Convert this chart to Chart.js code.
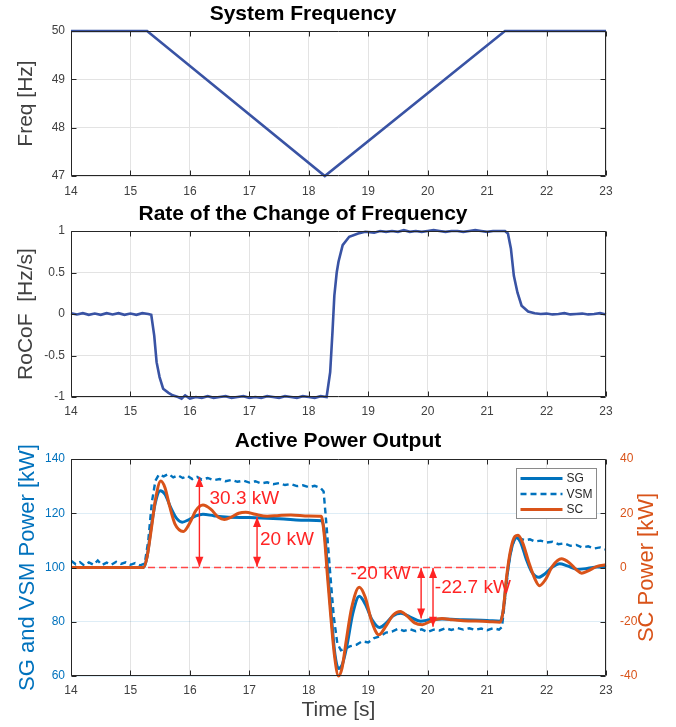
<!DOCTYPE html>
<html>
<head>
<meta charset="utf-8">
<title>Frequency event</title>
<script src="https://cdn.jsdelivr.net/npm/chart.js@4.4.1/dist/chart.umd.min.js"></script>
<style>
  body { margin: 0; background: #fff; }
  .panel { position: absolute; left: 0; width: 676px; }
</style>
</head>
<body>
<div class="panel" style="top:0"><canvas id="freqChart" width="676" height="200"></canvas></div>
<div class="panel" style="top:200px"><canvas id="rocofChart" width="676" height="220"></canvas></div>
<div class="panel" style="top:420px"><canvas id="powerChart" width="676" height="307"></canvas></div>
<script>
// ---- data ----
const timeTicks = [14, 15, 16, 17, 18, 19, 20, 21, 22, 23];
const freqTicks = [47, 48, 49, 50];
const rocofTicks = [-1, -0.5, 0, 0.5, 1];
const powerTicks = [60, 80, 100, 120, 140];
const scTicks = [-40, -20, 0, 20, 40];

const freqT = [14, 14.5, 15, 15.28, 18.27, 21.3, 21.6, 22, 22.5, 23];
const freqHz = [50, 50, 50, 50, 47, 50, 50, 50, 50, 50];

const rocofT = [14, 14.1, 14.2, 14.3, 14.4, 14.5, 14.6, 14.7, 14.8, 14.9, 15.0, 15.1, 15.2, 15.3, 15.35,
  15.4, 15.44, 15.49, 15.55, 15.64, 15.71, 15.8, 15.86, 15.92, 16.0, 16.1, 16.2, 16.3, 16.4, 16.5, 16.6,
  16.7, 16.8, 16.9, 17.0, 17.1, 17.2, 17.3, 17.4, 17.5, 17.6, 17.7, 17.8, 17.9, 18.0, 18.1, 18.2, 18.3,
  18.36, 18.4, 18.43, 18.47, 18.5, 18.57, 18.68, 18.83, 18.95, 19.1, 19.2, 19.3, 19.4, 19.5, 19.6, 19.7,
  19.8, 19.9, 20.0, 20.1, 20.2, 20.3, 20.4, 20.5, 20.6, 20.7, 20.8, 20.9, 21.0, 21.1, 21.2, 21.3, 21.35,
  21.4, 21.45, 21.51, 21.58, 21.69, 21.8, 21.9, 22.0, 22.1, 22.2, 22.3, 22.4, 22.5, 22.6, 22.7, 22.8,
  22.9, 23.0];
const rocofV = [0.01, -0.005, 0.01, -0.01, 0.005, -0.01, 0.01, -0.005, 0.01, -0.01, 0.005, -0.01, 0.01, 0.0, -0.01,
  -0.26, -0.58, -0.76, -0.9, -0.95, -0.98, -1.0, -1.02, -0.98, -1.02, -1.0, -1.01, -0.99, -1.01, -1.0, -0.99,
  -1.01, -1.0, -0.99, -1.01, -1.0, -1.01, -0.99, -1.0, -1.01, -0.99, -1.0, -1.01, -0.99, -1.0, -1.01, -0.99, -1.0,
  -0.7, -0.2, 0.22, 0.5, 0.63, 0.83, 0.93, 0.97, 0.99, 0.98, 1.0, 0.99, 1.0, 0.99, 1.01, 0.99,
  1.0, 0.99, 1.0, 1.01, 1.0, 0.99, 1.0, 1.0, 0.99, 1.0, 1.01, 1.0, 0.99, 1.0, 1.0, 1.0, 0.97,
  0.79, 0.46, 0.26, 0.1, 0.03, 0.01, 0.0, 0.005, -0.005, 0.0, 0.01, -0.005, 0.0, 0.005, -0.005, 0.0,
  0.01, -0.005];

const sgT = [14, 15.22, 15.28, 15.35, 15.42, 15.5, 15.58, 15.68, 15.78, 15.87, 15.98, 16.1, 16.22, 16.4,
  16.6, 17.0, 17.5, 18.0, 18.22, 18.27, 18.32, 18.38, 18.44, 18.5, 18.56, 18.64, 18.74, 18.85, 18.95,
  19.07, 19.19, 19.3, 19.42, 19.55, 19.7, 19.88, 20.05, 20.25, 20.6, 21.0, 21.22, 21.27, 21.33, 21.4,
  21.49, 21.56, 21.66, 21.76, 21.87, 21.98, 22.1, 22.22, 22.35, 22.52, 22.7, 22.85, 23];
const sgP = [100, 100, 104, 115, 124, 128.3, 127, 122, 118, 116.7, 117.6, 119, 119.6, 119.1,
  118.6, 118.4, 118.0, 117.4, 117.2, 112, 98, 82, 68, 62.8, 64, 71, 83, 89.4, 86.5,
  80.5, 77.9, 79.5, 82.2, 83.1, 81.8, 80.2, 80.8, 81, 80.7, 80.5, 80.2, 84, 96, 106,
  111, 109.5, 103, 98, 96.4, 97.8, 100.2, 101.4, 100.6, 99.3, 99.7, 100.2, 100];

const vsmT = [14, 14.08, 14.15, 14.22, 14.3, 14.38, 14.45, 14.52, 14.6, 14.68, 14.76, 14.84, 14.92, 15.0,
  15.08, 15.16, 15.24, 15.3, 15.36, 15.42, 15.48, 15.56, 15.64, 15.72, 15.8, 15.88, 15.96, 16.04, 16.12,
  16.2, 16.3, 16.4, 16.5, 16.6, 16.7, 16.8, 16.9, 17.0, 17.1, 17.2, 17.3, 17.4, 17.5, 17.6, 17.7, 17.8,
  17.9, 18.0, 18.1, 18.2, 18.25, 18.3, 18.36, 18.42, 18.48, 18.54, 18.62, 18.7, 18.8, 18.9, 19.0, 19.1,
  19.2, 19.3, 19.4, 19.5, 19.6, 19.7, 19.8, 19.9, 20.0, 20.1, 20.2, 20.3, 20.4, 20.5, 20.6, 20.7, 20.8,
  20.9, 21.0, 21.1, 21.2, 21.25, 21.3, 21.36, 21.42, 21.48, 21.56, 21.64, 21.72, 21.8, 21.9, 22.0, 22.1,
  22.2, 22.3, 22.4, 22.5, 22.6, 22.7, 22.8, 22.9, 23.0];
const vsmP = [102.5, 101.2, 102, 100.8, 101.9, 101, 102.6, 100.9, 101.8, 101, 102.1, 101.3, 101.9, 101,
  101.6, 100.8, 101.4, 110, 124, 132, 134.3, 133.6, 134.5, 133.2, 134, 133, 133.8, 132.6, 133.4,
  132.4, 133, 132.2, 132.6, 131.8, 132.3, 131.6, 132, 131.3, 131.8, 131, 131.4, 130.7, 131.1, 130.4, 130.8, 130,
  130.3, 129.6, 130.1, 129.3, 128, 115, 98, 82, 72, 69.5, 70.2, 71, 71.5, 72.8, 72.4, 74,
  74.6, 76, 76.4, 77.4, 76.6, 77.3, 76.5, 77.2, 76.2, 77.1, 76.8, 77.6, 77, 77.7, 77.1, 77.6, 77,
  77.5, 76.9, 77.6, 77.1, 78, 88, 101, 108, 111, 110.6, 110, 110.4, 109.6, 109.9, 109.2, 109.5,
  108.6, 108.9, 108, 108.3, 107.4, 107.8, 107, 107.4, 106.6];

const scT = [14, 15.22, 15.28, 15.35, 15.42, 15.51, 15.58, 15.66, 15.75, 15.89, 16.0, 16.1, 16.22, 16.35,
  16.48, 16.58, 16.7, 16.82, 16.94, 17.1, 17.3, 17.5, 17.7, 18.0, 18.21, 18.26, 18.31, 18.37, 18.43,
  18.5, 18.56, 18.63, 18.72, 18.85, 18.95, 19.06, 19.18, 19.3, 19.42, 19.54, 19.66, 19.78, 19.91, 20.05,
  20.24, 20.42, 20.6, 21.0, 21.22, 21.27, 21.33, 21.4, 21.47, 21.52, 21.6, 21.7, 21.8, 21.88, 21.98,
  22.1, 22.25, 22.38, 22.5, 22.59, 22.7, 22.85, 23];
const scP = [0, 0, 4, 14, 25, 31.9, 29.5, 22.5, 16, 13.3, 16.5, 21, 23, 21.5,
  18.5, 17.7, 18.6, 20, 20.4, 19.6, 18.9, 19.2, 19.4, 19, 18.9, 12, -2, -18, -32,
  -40, -37, -27, -15, -7.3, -11, -20, -24.8, -21.5, -17.5, -16.2, -18, -20.4, -21.1, -19.8,
  -18.8, -19.3, -19.6, -19.9, -20.2, -16, -3, 7, 11.5, 11.9, 9, 2, -4, -6.7, -4.5,
  0.5, 3.2, 1.8, -0.8, -2.1, -1.2, 0.4, 1];

// reference level and the four measured differences
const refLine = [[14, 100], [21.3, 100]];
const arrowX = [16.16, 17.13, 19.89, 20.09];
const arrowFrom = [100.3, 100.3, 99.8, 99.8];
const arrowTo = [133.4, 118.6, 81.2, 78.2];
const noteText = ['30.3 kW', '20 kW', '-20 kW', '-22.7 kW'];
const noteX = [16.33, 17.18, 18.7, 20.12];
const noteY = [125.3, 110.1, 97.8, 92.4];
const legendNames = ['SG', 'VSM', 'SC'];
const rightTitle = 'SC Power [kW]';

// ---- styling ----
const FONT = "'Liberation Sans', Arial, Helvetica, sans-serif";
const gray = '#404040';
const frameGray = '#262626';
const gridGray = '#e3e3e3';
const sgBlue = '#0072BD';
const scOrange = '#D95319';
const freqBlue = '#3953a4';
const red = '#ff2424';

Chart.defaults.font.family = FONT;
Chart.defaults.animation = false;
Chart.defaults.events = [];

const pairs = (xs, ys) => xs.map((x, i) => ({ x: x, y: ys[i] }));

// MATLAB style box with inward ticks on all four sides
const framePlugin = {
  id: 'frame',
  afterDatasetsDraw(chart, args, opts) {
    const { ctx, chartArea: a, scales } = chart;
    const t = 5;
    const line = (x1, y1, x2, y2) => { ctx.beginPath(); ctx.moveTo(x1, y1); ctx.lineTo(x2, y2); ctx.stroke(); };
    const L = a.left + 0.5, R = a.right - 0.5, T = a.top + 0.5, B = a.bottom - 0.5;
    ctx.save();
    ctx.lineWidth = 1;
    ctx.strokeStyle = frameGray;
    line(L, T, R, T);
    line(L, B, R, B);
    scales.x.ticks.forEach(tk => {
      const px = Math.round(scales.x.getPixelForValue(tk.value)) + 0.5;
      line(px, B, px, B - t);
      line(px, T, px, T + t);
    });
    const yl = scales.y;
    const yr = scales.y1 || scales.y;
    ctx.strokeStyle = opts.left || frameGray;
    line(L, T, L, B);
    yl.ticks.forEach(tk => {
      const py = Math.round(yl.getPixelForValue(tk.value)) + 0.5;
      line(L, py, L + t, py);
      if (!scales.y1) line(R, py, R - t, py);
    });
    ctx.strokeStyle = opts.right || frameGray;
    line(R, T, R, B);
    if (scales.y1) {
      yr.ticks.forEach(tk => {
        const py = Math.round(yr.getPixelForValue(tk.value)) + 0.5;
        line(R, py, R - t, py);
      });
    }
    ctx.restore();
  }
};

// arrow heads, value labels, right axis label and the boxed legend of the power panel
const notesPlugin = {
  id: 'notes',
  afterDatasetsDraw(chart) {
    const { ctx, chartArea: a, scales } = chart;
    ctx.save();
    chart.data.datasets.forEach((ds, i) => {
      if (!ds.isArrow) return;
      const pts = chart.getDatasetMeta(i).data;
      [[pts[0], pts[1]], [pts[1], pts[0]]].forEach(([tip, from]) => {
        const dir = tip.y < from.y ? 1 : -1;
        ctx.fillStyle = red;
        ctx.beginPath();
        ctx.moveTo(tip.x, tip.y);
        ctx.lineTo(tip.x - 4, tip.y + dir * 10);
        ctx.lineTo(tip.x + 4, tip.y + dir * 10);
        ctx.closePath();
        ctx.fill();
      });
    });
    ctx.fillStyle = red;
    ctx.font = '19px ' + FONT;
    ctx.textBaseline = 'middle';
    ctx.textAlign = 'left';
    noteText.forEach((txt, i) => {
      ctx.fillText(txt, scales.x.getPixelForValue(noteX[i]), scales.y.getPixelForValue(noteY[i]));
    });

    // right axis label, reading bottom to top like the left one
    ctx.save();
    ctx.translate(a.right + 41, (a.top + a.bottom) / 2);
    ctx.rotate(-Math.PI / 2);
    ctx.textAlign = 'center';
    ctx.fillStyle = scOrange;
    ctx.font = '22px ' + FONT;
    ctx.fillText(rightTitle, 0, 0);
    ctx.restore();

    // legend box
    const w = 80, h = 50;
    const bx = Math.round(a.right - 10 - w) + 0.5, by = Math.round(a.top + 9) + 0.5;
    ctx.fillStyle = '#fff';
    ctx.fillRect(bx, by, w, h);
    ctx.strokeStyle = '#8a8a8a';
    ctx.lineWidth = 1;
    ctx.strokeRect(bx, by, w, h);
    ctx.font = '12px ' + FONT;
    legendNames.forEach((name, k) => {
      const ds = chart.data.datasets.find(d => d.label === name);
      const yy = by + 10 + k * 15.5;
      ctx.strokeStyle = ds.borderColor;
      ctx.lineWidth = ds.borderWidth;
      ctx.setLineDash(ds.borderDash || []);
      ctx.beginPath();
      ctx.moveTo(bx + 4, yy);
      ctx.lineTo(bx + 46, yy);
      ctx.stroke();
      ctx.setLineDash([]);
      ctx.fillStyle = frameGray;
      ctx.fillText(name, bx + 50, yy + 0.5);
    });
    ctx.restore();
  }
};

const tickFont = { size: 12 };
function timeAxis(height, pad, title) {
  return {
    type: 'linear', min: 14, max: 23,
    afterBuildTicks: s => { s.ticks = timeTicks.map(v => ({ value: v })); },
    afterFit: s => { s.height = height; },
    ticks: { color: gray, font: tickFont, padding: pad, maxRotation: 0, autoSkip: false, callback: v => String(v) },
    grid: { color: gridGray, drawTicks: false },
    border: { display: false },
    title: title ? { display: true, text: title, color: gray, font: { size: 21 }, padding: { top: 0, bottom: 4 } } : { display: false }
  };
}
function valueAxis(opts) {
  return {
    type: 'linear', position: opts.position || 'left', min: opts.min, max: opts.max,
    afterBuildTicks: s => { s.ticks = opts.ticks.map(v => ({ value: v })); },
    afterFit: s => { s.width = opts.width; },
    ticks: { color: opts.color || gray, font: tickFont, padding: 6, autoSkip: false, callback: v => String(v) },
    grid: opts.grid === false ? { display: false } : { color: opts.gridColor || gridGray, drawTicks: false },
    border: { display: false },
    title: opts.title ? { display: true, text: opts.title, color: opts.color || gray, font: { size: opts.titleSize || 21 }, padding: { top: opts.titlePad, bottom: 0 } } : { display: false }
  };
}
function titleOpts(text, top, bottom) {
  return { display: true, text: text, color: '#000', font: { size: 21, weight: 'bold' }, padding: { top: top, bottom: bottom } };
}

new Chart(document.getElementById('freqChart'), {
  type: 'line',
  data: {
    datasets: [{
      label: 'Freq', data: pairs(freqT, freqHz), clip: false,
      borderColor: freqBlue, borderWidth: 2.6, pointRadius: 0
    }]
  },
  options: {
    responsive: false,
    layout: { padding: { right: 70 } },
    plugins: { legend: { display: false }, tooltip: { enabled: false }, title: titleOpts('System Frequency', 2, 3.8) },
    scales: {
      x: timeAxis(24, 8),
      y: valueAxis({ min: 47, max: 50, ticks: freqTicks, width: 71, title: 'Freq [Hz]', titlePad: 14 })
    }
  },
  plugins: [framePlugin]
});

new Chart(document.getElementById('rocofChart'), {
  type: 'line',
  data: {
    datasets: [{
      label: 'RoCoF', data: pairs(rocofT, rocofV), clip: false,
      borderColor: freqBlue, borderWidth: 2.6, pointRadius: 0
    }]
  },
  options: {
    responsive: false,
    layout: { padding: { right: 70 } },
    plugins: { legend: { display: false }, tooltip: { enabled: false }, title: titleOpts('Rate of the Change of Frequency', 2, 3.8) },
    scales: {
      x: timeAxis(23, 7),
      y: valueAxis({ min: -1, max: 1, ticks: rocofTicks, width: 71, title: 'RoCoF  [Hz/s]', titlePad: 14 })
    }
  },
  plugins: [framePlugin]
});

const arrowSets = arrowX.map((x, i) => ({
  label: 'arrow' + i, isArrow: true,
  data: [{ x: x, y: arrowFrom[i] }, { x: x, y: arrowTo[i] }],
  borderColor: red, borderWidth: 1.4, pointRadius: 0, yAxisID: 'y'
}));

new Chart(document.getElementById('powerChart'), {
  type: 'line',
  data: {
    datasets: [
      ...arrowSets,
      { label: 'SC', data: pairs(scT, scP), yAxisID: 'y1', borderColor: scOrange, borderWidth: 3, clip: false,
        pointRadius: 0, cubicInterpolationMode: 'monotone' },
      { label: 'SG', data: pairs(sgT, sgP), yAxisID: 'y', borderColor: sgBlue, borderWidth: 3, clip: false,
        pointRadius: 0, cubicInterpolationMode: 'monotone' },
      { label: 'VSM', data: pairs(vsmT, vsmP), yAxisID: 'y', borderColor: sgBlue, borderWidth: 2.4,
        borderDash: [6, 4], pointRadius: 0 },
      { label: 'ref', data: refLine.map(p => ({ x: p[0], y: p[1] })), yAxisID: 'y',
        borderColor: '#ff4848', borderWidth: 1.3, borderDash: [7, 4], pointRadius: 0 }
    ]
  },
  options: {
    responsive: false,
    plugins: { legend: { display: false }, tooltip: { enabled: false }, title: titleOpts('Active Power Output', 9, 4.8) },
    scales: {
      x: timeAxis(51, 7, 'Time [s]'),
      y: valueAxis({ min: 60, max: 140, ticks: powerTicks, width: 71, color: sgBlue, title: 'SG and VSM Power [kW]',
        titleSize: 22, titlePad: 15, gridColor: 'rgba(0,114,189,0.13)' }),
      y1: valueAxis({ position: 'right', min: -40, max: 40, ticks: scTicks, width: 70, color: scOrange, grid: false })
    }
  },
  plugins: [framePlugin, notesPlugin]
});
</script>
</body>
</html>
